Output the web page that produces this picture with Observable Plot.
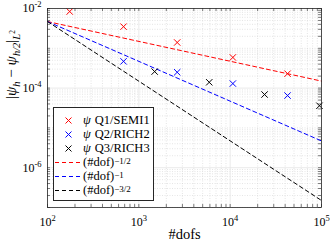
<!DOCTYPE html>
<html><head><meta charset="utf-8">
<script src="https://cdn.jsdelivr.net/npm/d3@7"></script>
<script src="https://cdn.jsdelivr.net/npm/@observablehq/plot@0.6"></script>
<style>
body{margin:0;background:#fff}
#wrap{position:relative;width:332px;height:248px;font-family:"Liberation Serif",serif}
#legend{position:absolute;left:53px;top:107px;width:101px;height:94px;border:1px solid #262626;background:#fff;box-sizing:border-box;padding-top:5px}
.row{height:14px;display:flex;align-items:center;font-size:12.5px;color:#000;white-space:pre}
.row svg{flex:none}
.row sup{font-size:9px;position:relative;top:-1px}
</style>
</head><body><div id="wrap"><div id="plot"></div><div id="legend"></div></div>
<script>
// data
const dofsQ1 = [175, 680, 2630, 10700, 42500];
const errQ1  = [8.4e-3, 3.5e-3, 1.4e-3, 5.9e-4, 2.3e-4];
const dofsQ2 = [680, 2630, 10700, 42500];
const errQ2  = [4.7e-4, 2.5e-4, 1.3e-4, 6.5e-5];
const dofsQ3 = [1490, 5900, 23800, 95000];
const errQ3  = [2.6e-4, 1.4e-4, 6.9e-5, 3.6e-5];
const refDofs = [100, 1e5];
const refHalf = [4.7e-3, 1.5e-4];
const refOne = [4.7e-3, 4.7e-6];
const refThreeHalves = [4.7e-3, 1.5e-7];
const xTicks = [1e2, 1e3, 1e4, 1e5];
const yTicks = [1e-6, 1e-4, 1e-2];
const xDecades = [1e2, 1e3, 1e4];
const yDecades = [1e-7, 1e-6, 1e-5, 1e-4, 1e-3];
const minorMult = [2, 3, 4, 5, 6, 7, 8, 9];
const seriesNames = ["ψ", "ψ", "ψ"];
const seriesTags = ["Q1/SEMI1", "Q2/RICH2", "Q3/RICH3"];
const colors = ["#ff0000", "#0000ff", "#000000"];

const toRows = (xs, ys) => xs.map((x, i) => ({x, y: ys[i]}));
const xMinor = xDecades.flatMap(d => minorMult.map(m => d * m));
const yMinor = yDecades.flatMap(d => minorMult.map(m => d * m));
const xAll = xMinor.concat(xTicks);
const yAll = yMinor.concat(yDecades, [1e-2]);

const W = 332, H = 248, mL = 47, mR = 11, mT = 8, mB = 41;
const pw = W - mL - mR, ph = H - mT - mB, tl = 3;

const chart = Plot.plot({
  width: W, height: H,
  marginLeft: mL, marginRight: mR, marginTop: mT, marginBottom: mB,
  style: {fontFamily: "Liberation Serif, serif", fontSize: "11px", background: "#fff"},
  x: {type: "log", domain: [100, 1e5], axis: null},
  y: {type: "log", domain: [1e-7, 1e-2], axis: null},
  marks: [
    Plot.ruleX(xMinor, {stroke: "#d4d4d4", strokeDasharray: "1,1.5", strokeWidth: 0.6}),
    Plot.ruleY(yMinor.concat([1e-3,1e-5,1e-7]), {stroke: "#d4d4d4", strokeDasharray: "1,1.5", strokeWidth: 0.6}),
    Plot.ruleX(xTicks, {stroke: "#e4e4e4", strokeWidth: 0.8}),
    Plot.ruleY(yTicks, {stroke: "#e4e4e4", strokeWidth: 0.8}),
    // inward ticks
    Plot.ruleX(xAll, {stroke: "#262626", strokeWidth: 0.6, insetTop: ph - tl}),
    Plot.ruleX(xAll, {stroke: "#262626", strokeWidth: 0.6, insetBottom: ph - tl}),
    Plot.ruleY(yAll, {stroke: "#262626", strokeWidth: 0.6, insetRight: pw - tl}),
    Plot.ruleY(yAll, {stroke: "#262626", strokeWidth: 0.6, insetLeft: pw - tl}),
    Plot.line(toRows(refDofs, refHalf), {x: "x", y: "y", stroke: colors[0], strokeWidth: 1, strokeDasharray: "4,3"}),
    Plot.line(toRows(refDofs, refOne), {x: "x", y: "y", stroke: colors[1], strokeWidth: 1, strokeDasharray: "4,3"}),
    Plot.line(toRows(refDofs, refThreeHalves), {x: "x", y: "y", stroke: colors[2], strokeWidth: 1, strokeDasharray: "4,3"}),
    Plot.dot(toRows(dofsQ1, errQ1), {x: "x", y: "y", symbol: "times", r: 3, stroke: colors[0], strokeWidth: 1}),
    Plot.dot(toRows(dofsQ2, errQ2), {x: "x", y: "y", symbol: "times", r: 3, stroke: colors[1], strokeWidth: 1}),
    Plot.dot(toRows(dofsQ3, errQ3), {x: "x", y: "y", symbol: "times", r: 3, stroke: colors[2], strokeWidth: 1}),
    Plot.frame({stroke: "#262626", strokeWidth: 0.8}),
    Plot.axisX(xTicks, {tickSize: 0, tickPadding: 10, label: null, fontSize: 12,
      tickFormat: d => "10^" + Math.round(Math.log10(d))}),
    Plot.axisY(yTicks, {tickSize: 0, tickPadding: 6, label: null, fontSize: 12,
      tickFormat: d => "10^" + Math.round(Math.log10(d))}),
    Plot.text(["#dofs"], {frameAnchor: "bottom", dy: 31, fontSize: 14.5}),
    Plot.text(["YLABEL"], {frameAnchor: "left", dx: -36, dy: -9, rotate: -90, fontSize: 15})
  ]
});
document.getElementById("plot").appendChild(chart);

function rich(textEl, segs) {
  const t = d3.select(textEl);
  t.text(null);
  let cur = 0;
  for (const s of segs) {
    const sh = s.shift || 0;
    const ts = t.append("tspan").text(s.t);
    if (sh !== cur) ts.attr("dy", (cur - sh) + "px");
    if (s.size) ts.attr("font-size", s.size);
    if (s.italic) ts.attr("font-style", "italic");
    cur = sh;
  }
}
d3.select(chart).selectAll("text").each(function() {
  const s = this.textContent;
  if (/^10\^/.test(s)) {
    const [b, e] = s.split("^");
    rich(this, [{t: b}, {t: e, shift: 5, size: "8.5px"}]);
  } else if (s === "YLABEL") {
    rich(this, [
      {t: "|"}, {t: "ψ", italic: true}, {t: "h", shift: -3.5, size: "10.5px", italic: true},
      {t: " − "}, {t: "ψ", italic: true}, {t: "h/2", shift: -3.5, size: "10.5px", italic: true},
      {t: "|"}, {t: "L", shift: -3.5, size: "10.5px", italic: true}, {t: "2", shift: 1.5, size: "7.5px"}
    ]);
  }
});

// legend
const leg = d3.select("#legend");
seriesNames.forEach((n, i) => {
  const r = leg.append("div").attr("class", "row");
  const s = r.append("svg").attr("width", 29).attr("height", 14);
  s.append("path").attr("d", "M11.5,4.5L17.5,10.5M17.5,4.5L11.5,10.5").attr("stroke", colors[i]).attr("stroke-width", 1);
  r.append("span").style("font-style", "italic").style("margin-right", "4px").text(n);
  r.append("span").text(seriesTags[i]);
});
const refLabels = [["(#dof)", "−1/2"], ["(#dof)", "−1"], ["(#dof)", "−3/2"]];
refLabels.forEach(([b, e], i) => {
  const r = leg.append("div").attr("class", "row");
  const s = r.append("svg").attr("width", 29).attr("height", 14);
  s.append("line").attr("x1", 1).attr("x2", 28).attr("y1", 7.5).attr("y2", 7.5)
    .attr("stroke", colors[i]).attr("stroke-width", 1).attr("stroke-dasharray", "4,3");
  r.append("span").text(b);
  r.append("sup").text(e);
});
</script>
</body></html>
